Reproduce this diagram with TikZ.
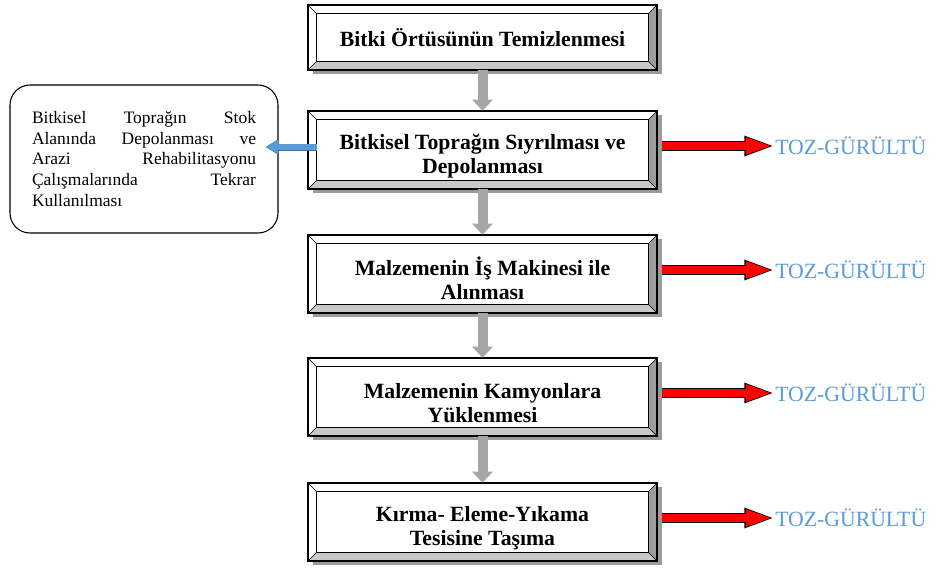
\documentclass[tikz,border=0pt]{standalone}
\usepackage{fontspec}
\setmainfont{Liberation Serif}
\usepackage{tikz}
\usetikzlibrary{calc}
\usetikzlibrary{arrows.meta}
\usetikzlibrary{shadows}
\definecolor{bevelgray}{HTML}{C8C8C8}
\definecolor{beveldark}{HTML}{9C9C9C}
\definecolor{shadowgray}{HTML}{9A9A9A}
\definecolor{flowgray}{HTML}{A6A6A6}
\definecolor{noisered}{HTML}{FF0000}
\definecolor{noiseblue}{HTML}{5B9BD5}
\definecolor{keepblue}{HTML}{5B9BD5}
\definecolor{keepedge}{HTML}{41719C}

\begin{document}
\begin{tikzpicture}[x=0.75pt,y=-0.75pt,
    stepbox/.style={rectangle, fill=white, inner sep=0pt, minimum width=261.75pt,
      minimum height=58.5pt, align=center, font=\fontsize{16.3}{18}\selectfont\bfseries,
      drop shadow={shadow xshift=3.75pt, shadow yshift=-3pt, fill=shadowgray, opacity=1}},
    twoline/.style={text height=38pt},
    sidebox/.style={rectangle, draw, line width=0.8pt, rounded corners=15pt,
      minimum width=201pt, minimum height=111pt, text width=168pt, align=justify,
      font=\fontsize{13.1}{15.4}\selectfont},
    noiselabel/.style={anchor=west, inner sep=0pt, text=noiseblue,
      font=\fontsize{16.3}{18}\selectfont},
    flowarrow/.style={draw=flowgray, line width=7.5pt,
      -{Triangle[width=15pt,length=8.25pt]}},
    noisearrow/.style={preaction={draw=black, line width=7.5pt, shorten >=0pt,
        -{Triangle[width=13.5pt,length=23pt]}},
      draw=noisered, line width=6pt, shorten >=1.2pt,
      -{Triangle[width=11.25pt,length=20.5pt]}},
    keeparrow/.style={preaction={draw=keepedge, line width=5.25pt, shorten >=0pt,
        -{Triangle[width=11.5pt,length=10pt]}},
      draw=keepblue, line width=4.5pt, shorten >=0.8pt,
      -{Triangle[width=10pt,length=8.5pt]}}]
    \useasboundingbox (0,0) rectangle (941,568);

    % process steps
    \node[stepbox, minimum height=48.75pt] (s1) at (482.5,37.5) {Bitki Örtüsünün Temizlenmesi};
    \node[stepbox, twoline] (s2) at (482.5,150) {Bitkisel Toprağın Sıyrılması ve\\Depolanması};
    \node[stepbox, twoline] (s3) at (482.5,274) {Malzemenin İş Makinesi ile\\Alınması};
    \node[stepbox, twoline] (s4) at (482.5,397) {Malzemenin Kamyonlara\\Yüklenmesi};
    \node[stepbox, twoline] (s5) at (482.5,522) {Kırma- Eleme-Yıkama\\Tesisine Taşıma};

    \foreach \n in {s1,s2,s3,s4,s5}{
        \coordinate (\n-a) at ($(\n.north west)+(9,9)$);
        \coordinate (\n-b) at ($(\n.north east)+(-9,9)$);
        \coordinate (\n-c) at ($(\n.south east)+(-9,-9)$);
        \coordinate (\n-d) at ($(\n.south west)+(9,-9)$);
        \fill[bevelgray] (\n.south west) -- (\n.south east) -- (\n-c) -- (\n-d) -- cycle;
        \fill[beveldark] (\n.south east) -- (\n.north east) -- (\n-b) -- (\n-c) -- cycle;
        \draw[thin] (\n-a) rectangle (\n-c);
        \draw[thin] (\n.north west) -- (\n-a) (\n.north east) -- (\n-b)
            (\n.south east) -- (\n-c) (\n.south west) -- (\n-d);
        \draw[line width=1.2pt] (\n.south west) rectangle (\n.north east);
    }

    \foreach \a/\b in {s1/s2,s2/s3,s3/s4,s4/s5}
        \draw[flowarrow] (\a.south) -- (\b.north);

    % noise outputs
    \node[noiselabel] (t2) at (775,146) {TOZ-GÜRÜLTÜ};
    \node[noiselabel] (t3) at (775,270) {TOZ-GÜRÜLTÜ};
    \node[noiselabel] (t4) at (775,393) {TOZ-GÜRÜLTÜ};
    \node[noiselabel] (t5) at (775,518) {TOZ-GÜRÜLTÜ};
    \foreach \n in {2,3,4,5}
        \draw[noisearrow] ($(t\n.west -| s\n.east)+(5,0)$) -- (t\n.west);

    % topsoil reuse
    \node[sidebox] (stok) at (144,159) {Bitkisel Toprağın Stok\linebreak
        Alanında Depolanması ve\linebreak Arazi Rehabilitasyonu\linebreak
        Çalışmalarında Tekrar\linebreak Kullanılması};
    \coordinate (keeptip) at ($(stok.east)+(-13,-12)$);
    \draw[keeparrow] ($(s2.west)+(9,-3)$) -- (keeptip);
\end{tikzpicture}
\end{document}
